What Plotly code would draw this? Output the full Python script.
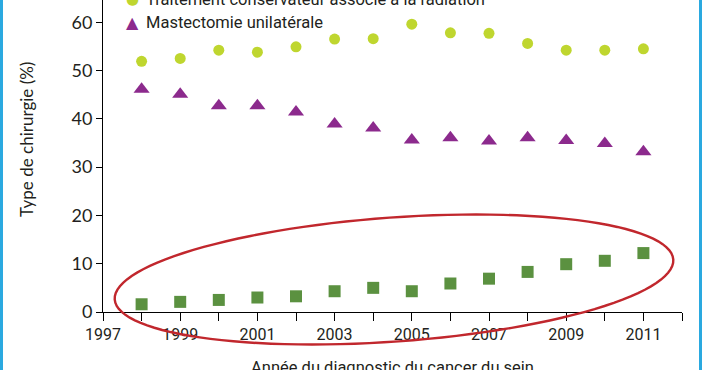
import numpy as np
import plotly.graph_objects as go

# ---- data ----
years = list(range(1998, 2012))
conservateur = [51.9, 52.5, 54.2, 53.8, 54.9, 56.5, 56.6, 59.6, 57.8, 57.7, 55.6, 54.2, 54.2, 54.5]
mastectomie_uni = [46.1, 45.1, 42.7, 42.7, 41.4, 38.9, 38.1, 35.6, 36.1, 35.4, 36.1, 35.5, 34.9, 33.2]
mastectomie_bi = [1.6, 2.1, 2.5, 3.0, 3.25, 4.3, 5.0, 4.3, 5.9, 6.9, 8.3, 9.9, 10.6, 12.2]

x_tick_vals = list(range(1997, 2013))
x_tick_text = [str(y) if (y - 1997) % 2 == 0 and y <= 2011 else "" for y in x_tick_vals]
y_tick_vals = [0, 10, 20, 30, 40, 50, 60]

legend_labels = ["Traitement conservateur associé à la radiation", "Mastectomie unilatérale"]

C_CIRCLE = "#bfd62f"
C_TRI = "#8c2a8d"
C_SQ = "#5b9140"
C_RED = "#c1272d"
C_TEXT = "#231f20"

# ---- layout geometry ----
W, H = 702, 370
ML, MR, MT, MB = 103, 20, 0, 58
PW, PH = W - ML - MR, H - MT - MB
X0, X1 = 1997, 2012
YMAX = 64.6


def px_paper(px):
    return (px - ML) / PW


def py_paper(py):
    return (H - MB - py) / PH


fig = go.Figure()
fig.add_trace(go.Scatter(x=years, y=conservateur, mode="markers",
                         marker=dict(symbol="circle", size=11, color=C_CIRCLE),
                         showlegend=False, hoverinfo="skip"))
fig.add_trace(go.Scatter(x=years, y=mastectomie_uni, mode="markers",
                         marker=dict(symbol="triangle-up", size=14, color=C_TRI),
                         showlegend=False, hoverinfo="skip"))
fig.add_trace(go.Scatter(x=years, y=mastectomie_bi, mode="markers",
                         marker=dict(symbol="square", size=12, color=C_SQ),
                         showlegend=False, hoverinfo="skip"))

# ellipse highlight (drawn in pixel space, converted to paper units so it is not clipped)
cx, cy, a, b, th = 394, 279.5, 280, 62, np.deg2rad(-4.1)
t = np.linspace(0, 2 * np.pi, 121)
ex = cx + a * np.cos(t) * np.cos(th) - b * np.sin(t) * np.sin(th)
ey = cy + a * np.cos(t) * np.sin(th) + b * np.sin(t) * np.cos(th)
path = "M " + " L ".join(f"{px_paper(x):.5f},{py_paper(y):.5f}" for x, y in zip(ex, ey)) + " Z"
fig.add_shape(type="path", path=path, xref="paper", yref="paper",
              line=dict(color=C_RED, width=2.4), fillcolor="rgba(0,0,0,0)", layer="above")

# side borders
for x_a, x_b in [(0, 3), (699, 702)]:
    fig.add_shape(type="rect", xref="paper", yref="paper",
                  x0=px_paper(x_a), x1=px_paper(x_b), y0=py_paper(H + 5), y1=py_paper(-5),
                  line=dict(width=0), fillcolor="#2aa9e0", layer="above")

# legend (cropped at top like the reference)
leg_y = [-1, 23]
glyphs = [("●", C_CIRCLE, 15), ("▲", C_TRI, 16)]
for (g, col, gs), lab, py in zip(glyphs, legend_labels, leg_y):
    fig.add_annotation(x=px_paper(132), y=py_paper(py), xref="paper", yref="paper",
                       text=g, showarrow=False, xanchor="center", yanchor="middle",
                       font=dict(family="DejaVu Sans", size=gs, color=col))
    fig.add_annotation(x=px_paper(144), y=py_paper(py), xref="paper", yref="paper",
                       text=lab, showarrow=False, xanchor="left", yanchor="middle",
                       font=dict(family="Roboto", size=16.5, color=C_TEXT))

# axis titles
fig.add_annotation(x=px_paper(26), y=py_paper(140), xref="paper", yref="paper",
                   text="Type de chirurgie (%)", textangle=-90, showarrow=False,
                   xanchor="center", yanchor="middle",
                   font=dict(family="Lato", size=17, color=C_TEXT))
fig.add_annotation(x=px_paper(392), y=py_paper(367), xref="paper", yref="paper",
                   text="Année du diagnostic du cancer du sein", showarrow=False,
                   xanchor="center", yanchor="middle",
                   font=dict(family="Roboto", size=16.5, color=C_TEXT))

fig.update_layout(
    width=W, height=H,
    margin=dict(l=ML, r=MR, t=MT, b=MB, pad=0),
    paper_bgcolor="white", plot_bgcolor="white",
    showlegend=False,
    xaxis=dict(range=[X0, X1], tickvals=x_tick_vals, ticktext=x_tick_text,
               showgrid=False, zeroline=False, showline=True, linecolor="black", linewidth=1,
               ticks="outside", ticklen=8, tickwidth=1, tickcolor="black",
               tickfont=dict(family="Roboto", size=16, color=C_TEXT), fixedrange=True),
    yaxis=dict(range=[0, YMAX], tickvals=y_tick_vals,
               showgrid=False, zeroline=False, showline=True, linecolor="black", linewidth=1,
               ticks="outside", ticklen=6, tickwidth=1, tickcolor="black",
               tickfont=dict(family="Lato", size=18, color=C_TEXT), fixedrange=True),
)

fig.write_html("out.html", config={"displayModeBar": False},
               post_script="document.body.style.margin='0';document.body.style.overflow='hidden';")
